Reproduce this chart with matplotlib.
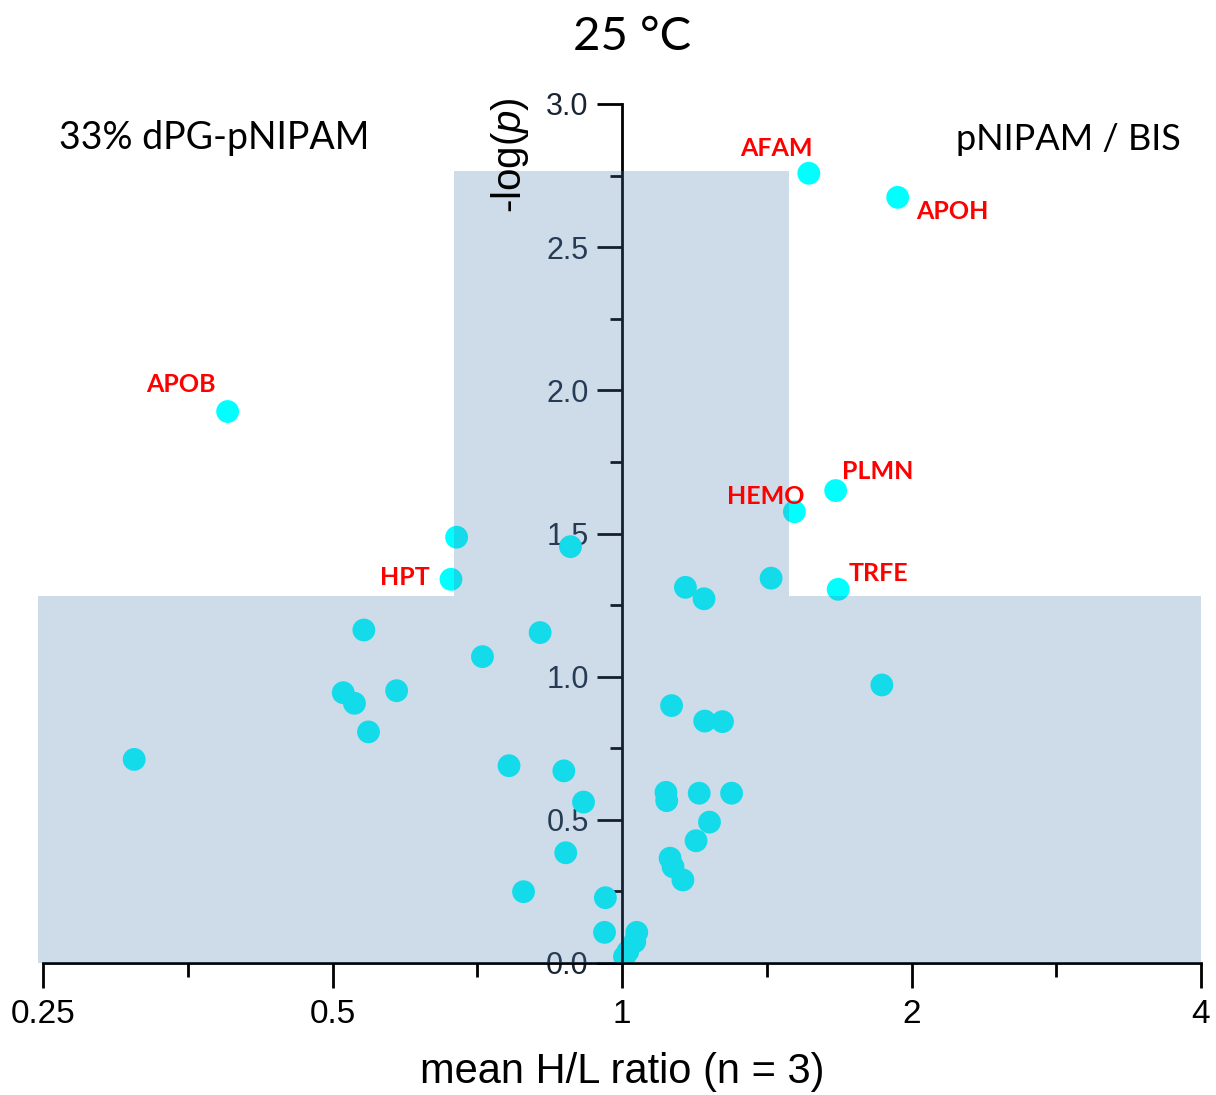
import numpy as np
import matplotlib.pyplot as plt
from matplotlib.patches import Polygon
from matplotlib.ticker import FixedLocator, NullFormatter

plt.rcParams['font.family'] = ['Liberation Sans', 'DejaVu Sans']
plt.rcParams['mathtext.fontset'] = 'custom'
plt.rcParams['mathtext.rm'] = 'Liberation Sans'
plt.rcParams['mathtext.it'] = 'Liberation Sans:italic'

# proteins that pass both thresholds (named in red)
hit_names = ["APOB", "AFAM", "APOH", "PLMN", "HEMO", "TRFE", "HPT"]
hit_ratio = [0.389, 1.564, 1.935, 1.668, 1.511, 1.678, 0.664]
hit_logp = [1.926, 2.758, 2.674, 1.650, 1.576, 1.305, 1.340]

# all other proteins
ratio = [0.673, 0.884, 0.539, 0.822, 0.716, 0.513, 0.527, 0.583, 0.545,
         0.311, 0.763, 0.870, 0.912, 0.874, 0.790, 0.961, 0.959,
         1.429, 1.164, 1.217, 1.863, 1.126, 1.219, 1.272, 1.111, 1.113,
         1.203, 1.300, 1.233, 1.194, 1.122, 1.130, 1.157, 1.036, 1.031,
         1.014, 1.006]
logp = [1.487, 1.454, 1.163, 1.154, 1.070, 0.944, 0.907, 0.951, 0.807,
        0.711, 0.689, 0.671, 0.562, 0.385, 0.249, 0.228, 0.107,
        1.344, 1.312, 1.272, 0.971, 0.899, 0.845, 0.843, 0.596, 0.567,
        0.593, 0.593, 0.492, 0.427, 0.366, 0.336, 0.290, 0.107, 0.074,
        0.040, 0.022]

# non-significant area
p_cut = 1.28
fold_lo, fold_hi = 0.669, 1.49
box_top = 2.765

xticks = [0.25, 0.5, 1, 2, 4]
xtick_labels = ["0.25", "0.5", "1", "2", "4"]

# label offsets (pixels) from each point
label_offsets = [(-47, 27), (-32, 25), (55, -14), (42, 19), (-29, 15), (40, 16), (-46, 2)]

fig = plt.figure(figsize=(12.16, 10.95), dpi=100)
ax = fig.add_axes([43 / 1216, 132 / 1095, 1158 / 1216, 859 / 1095])

ax.scatter(ratio + hit_ratio, logp + hit_logp, s=270, color='#00ffff',
           edgecolors='none', zorder=2)

shade = Polygon([(0.247, 0), (4, 0), (4, p_cut), (fold_hi, p_cut),
                 (fold_hi, box_top), (fold_lo, box_top), (fold_lo, p_cut),
                 (0.247, p_cut)],
                closed=True, facecolor=(74 / 255, 122 / 255, 174 / 255),
                alpha=0.27, edgecolor='none', zorder=3, clip_on=False)
ax.add_patch(shade)

for name, x, y, off in zip(hit_names, hit_ratio, hit_logp, label_offsets):
    ax.annotate(name, (x, y), xytext=off, textcoords='offset pixels',
                ha='center', va='center', color='#ff0000', fontsize=18,
                fontweight='bold', family=['Lato', 'DejaVu Sans'], zorder=4)

ax.set_xscale('log', base=2)
ax.set_xlim(0.25, 4)
ax.set_ylim(0, 3)
ax.xaxis.set_major_locator(FixedLocator(xticks))
ax.set_xticklabels(xtick_labels)
ax.xaxis.set_minor_locator(FixedLocator([2 ** (k + 0.5) for k in range(-2, 2)]))
ax.xaxis.set_minor_formatter(NullFormatter())
ax.set_yticks(np.arange(0, 3.01, 0.5))
ax.set_yticks(np.arange(0.25, 3, 0.5), minor=True)
ax.yaxis.set_major_formatter(plt.FormatStrFormatter('%.1f'))

ax.spines['left'].set_position(('data', 1))
ax.spines['top'].set_visible(False)
ax.spines['right'].set_visible(False)
for sp in ('left', 'bottom'):
    ax.spines[sp].set_linewidth(2)

ax.tick_params(axis='x', which='major', length=18, width=2, labelsize=24, pad=8)
ax.tick_params(axis='x', which='minor', length=10, width=2)
ax.tick_params(axis='y', which='major', length=18, width=2, labelsize=22,
               pad=6, labelcolor='#1a2533')
ax.tick_params(axis='y', which='minor', length=9, width=2)

fig.text(622 / 1216, 1 - 1072 / 1095, "mean H/L ratio (n = 3)", fontsize=30,
         ha='center', va='center')
fig.text(510 / 1216, 1 - 155 / 1095, r"-log($p$)", fontsize=29, rotation=90,
         ha='center', va='center')
fig.text(632 / 1216, 1 - 37 / 1095, "25 °C", fontsize=34, ha='center',
         va='center', family=['Lato', 'DejaVu Sans'])
fig.text(214 / 1216, 1 - 138 / 1095, "33% dPG-pNIPAM", fontsize=27,
         ha='center', va='center', family=['Lato', 'DejaVu Sans'])
fig.text(1068 / 1216, 1 - 140 / 1095, "pNIPAM / BIS", fontsize=26,
         ha='center', va='center', family=['Lato', 'DejaVu Sans'])

fig.savefig('out.png', dpi=100)
